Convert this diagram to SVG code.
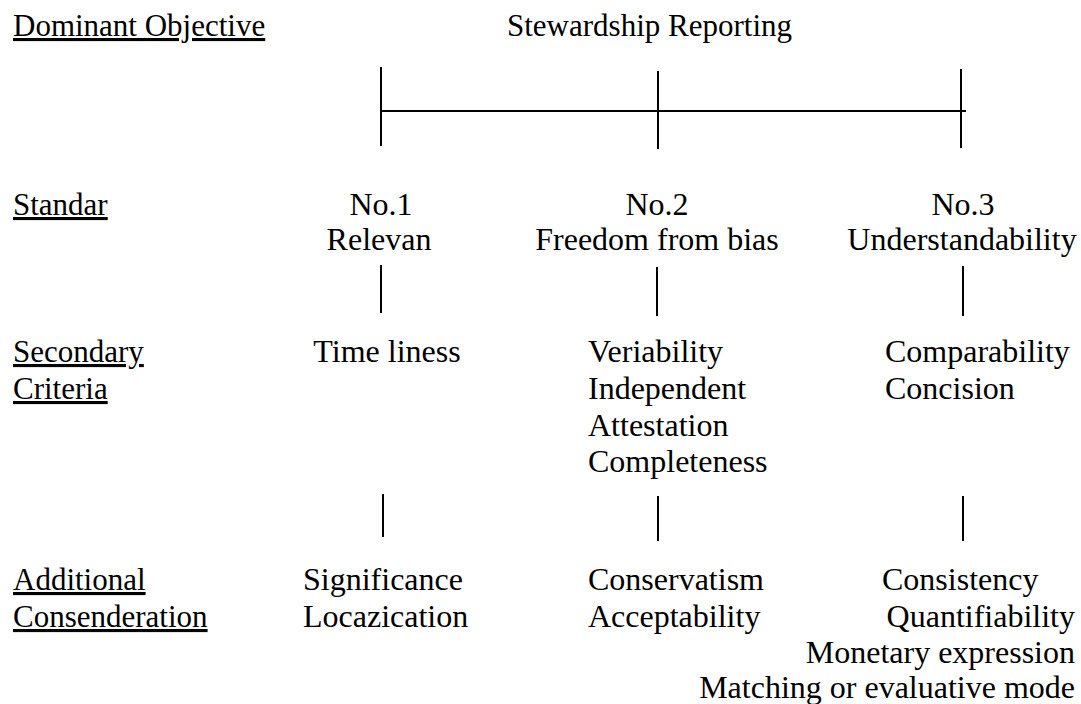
<svg xmlns="http://www.w3.org/2000/svg" width="1081" height="704" viewBox="0 0 1081 704">
<style>
text{font-family:"Liberation Serif","Times New Roman",serif;font-size:31px;fill:#000}
.n text{font-size:32px}
.u{text-decoration:underline}
.m{text-anchor:middle}
.e{text-anchor:end}
.ln{stroke:#000;stroke-width:2;fill:none}
</style>
<rect width="1081" height="704" fill="#fff"/>
<g id="labels">
<text class="u" x="13" y="36">Dominant Objective</text>
<text class="u" x="13" y="215">Standar</text>
<text class="u" x="13" y="362">Secondary</text>
<text class="u" x="13" y="399">Criteria</text>
<text class="u" x="13" y="590">Additional</text>
<text class="u" x="13" y="627">Consenderation</text>
</g>
<g id="connectors">
<line class="ln" x1="381" y1="67" x2="381" y2="146"/>
<line class="ln" x1="658" y1="71" x2="658" y2="149"/>
<line class="ln" x1="961" y1="69" x2="961" y2="148"/>
<line class="ln" x1="381" y1="111" x2="966" y2="111"/>
<line class="ln" x1="381" y1="265" x2="381" y2="313"/>
<line class="ln" x1="657" y1="267" x2="657" y2="316"/>
<line class="ln" x1="963" y1="266" x2="963" y2="316"/>
<line class="ln" x1="383" y1="494" x2="383" y2="537"/>
<line class="ln" x1="658" y1="496" x2="658" y2="541"/>
<line class="ln" x1="963" y1="496" x2="963" y2="541"/>
</g>
<g id="root"><text x="507" y="36">Stewardship Reporting</text></g>
<g id="std1" class="n"><text class="m" x="381" y="215">No.1</text><text class="m" x="379" y="250">Relevan</text></g>
<g id="std2" class="n"><text class="m" x="657" y="215">No.2</text><text class="m" x="657" y="250">Freedom from bias</text></g>
<g id="std3" class="n"><text class="m" x="963" y="215">No.3</text><text class="m" x="962" y="250">Understandability</text></g>
<g id="sec1" class="n"><text class="m" x="387" y="362">Time liness</text></g>
<g id="sec2" class="n"><text x="588" y="362">Veriability</text><text x="588" y="399">Independent</text><text x="588" y="436">Attestation</text><text x="588" y="472">Completeness</text></g>
<g id="sec3" class="n"><text x="885" y="362">Comparability</text><text x="885" y="399">Concision</text></g>
<g id="add1" class="n"><text x="303" y="590">Significance</text><text x="303" y="627">Locazication</text></g>
<g id="add2" class="n"><text x="588" y="590">Conservatism</text><text x="588" y="627">Acceptability</text></g>
<g id="add3" class="n"><text x="882" y="590">Consistency</text><text class="e" x="1075" y="627">Quantifiability</text><text class="e" x="1075" y="663">Monetary expression</text><text class="e" x="1075" y="698">Matching or evaluative mode</text></g>
</svg>
